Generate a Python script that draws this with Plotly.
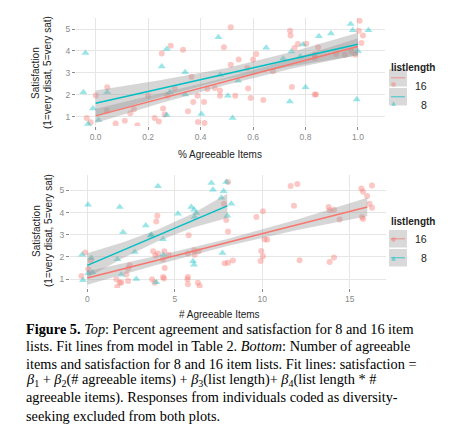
import plotly.graph_objects as go

RED = "#F8766D"
TEAL = "#00BFC4"
BAND = "rgba(153,153,153,0.4)"
W, H = 450, 434

# ---- top panel: % agreeable items vs satisfaction (jittered points) ----
top16_x = [0.0, -0.034, -0.019, 0.044, 0.042, 0.076, 0.111, 0.159, 0.132, 0.146,
           0.2, 0.225, 0.241, 0.252, 0.286, 0.333, 0.257, 0.263, 0.273, 0.301,
           0.365, 0.352, 0.372, 0.388, 0.39, 0.413, 0.415, 0.426, 0.454, 0.474,
           0.474, 0.489, 0.515, 0.515, 0.532, 0.545, 0.581, 0.591, 0.60, 0.578,
           0.612, 0.639, 0.676, 0.741, 0.743, 0.748, 0.758, 0.771, 0.803, 0.835,
           0.848, 0.835, 0.835, 0.84, 0.917, 0.95, 0.975, 1.006, 1.019, 1.013,
           1.003, 0.99]
top16_y = [1.98, 0.95, 0.76, 2.35, 1.29, 0.70, 0.83, 0.62, 1.17, 1.35,
           1.97, 0.95, 0.80, 3.89, 4.24, 4.06, 1.38, 1.11, 1.97, 2.29,
           2.83, 1.26, 1.68, 1.97, 0.77, 1.68, 0.73, 2.27, 2.32, 2.20,
           1.97, 4.17, 5.08, 3.38, 1.97, 3.61, 2.29, 1.86, 3.61, 3.23,
           3.86, 1.77, 3.08, 4.92, 4.71, 2.36, 4.14, 4.32, 4.33, 3.68,
           4.17, 3.83, 2.02, 2.02, 3.86, 3.83, 3.98, 5.38, 4.71, 4.36,
           4.92, 3.83]
top8_x = [-0.039, -0.047, -0.01, -0.029, 0.011, 0.044, 0.271, 0.252, 0.283, 0.271,
          0.341, 0.341, 0.403, 0.468, 0.475, 0.504, 0.522, 0.543, 0.65, 0.715,
          0.746, 0.74, 0.80, 0.79, 0.78, 0.851, 0.897, 0.972, 0.98, 1.04,
          1.0, 0.995]
top8_y = [3.91, 2.12, 1.38, 0.68, 0.86, 2.12, 4.09, 3.30, 2.14, 1.09,
          3.03, 2.02, 1.14, 4.62, 2.92, 1.97, 0.95, 2.65, 4.15, 3.65,
          3.98, 1.70, 2.35, 4.29, 3.75, 4.67, 4.80, 5.23, 4.94, 4.94,
          3.99, 1.79]

# fit lines and ribbon half-widths
top_fit_x = [0.0, 0.25, 0.5, 0.75, 1.0]
top16_fit = [1.05, 1.85, 2.63, 3.42, 4.20]
top16_hw = [0.32, 0.22, 0.16, 0.22, 0.38]
top8_fit = [1.62, 2.30, 2.97, 3.64, 4.31]
top8_hw = [0.58, 0.38, 0.26, 0.32, 0.52]

# ---- bottom panel: # agreeable items vs satisfaction ----
bot16_x = [-0.12, -0.34, 0.05, 0.2, 1.66, 1.85, 1.71, 2.33, 2.23, 2.33,
           2.42, 3.7, 3.85, 4.38, 3.76, 3.89, 4.04, 4.33, 4.42, 4.0,
           3.94, 4.66, 4.4, 5.79, 5.75, 5.72, 5.75, 6.32, 6.42, 6.13,
           6.1, 6.36, 7.94, 8.04, 7.85, 8.04, 8.32, 7.81, 8.04, 9.66,
           10.04, 10.13, 10.28, 9.94, 10.04, 9.9, 12.13, 11.62, 12.0, 11.81,
           13.79, 13.85, 14.1, 14.42, 13.85, 14.1, 15.66, 15.76, 15.99, 16.27,
           15.7, 15.76, 16.13, 16.27, 5.75, 4.33, 1.94]
bot16_y = [2.2, 1.14, 1.44, 1.84, 0.99, 0.84, 0.64, 0.91, 1.21, 1.47,
           1.62, 0.99, 0.84, 1.03, 2.26, 2.06, 2.15, 1.88, 1.5, 3.86,
           3.6, 2.1, 2.25, 2.98, 2.15, 0.99, 0.77, 0.84, 0.69, 2.1,
           2.3, 2.25, 3.66, 3.14, 1.71, 1.74, 1.84, 4.4, 5.37, 3.8,
           4.06, 2.8, 2.77, 2.27, 2.03, 1.82, 1.85, 5.19, 5.28, 4.31,
           4.25, 4.1, 4.13, 3.69, 1.77, 1.97, 5.08, 4.93, 4.74, 5.22,
           3.8, 3.71, 4.4, 4.21, 1.09, 1.09, 0.85]
bot8_x = [0.04, -0.3, 0.05, 0.3, -0.25, 0.23, 1.85, 2.04, 1.72, 1.94,
          2.8, 2.71, 3.34, 4.04, 3.62, 4.33, 4.33, 3.94, 5.18, 5.94,
          6.1, 6.23, 6.13, 6.04, 6.1, 7.09, 7.18, 7.66, 7.79, 7.94,
          8.23, 8.0, 7.72, 3.66]
bot8_y = [4.35, 2.1, 1.27, 1.3, 0.95, 1.95, 4.25, 3.11, 1.89, 1.2,
          1.01, 2.22, 3.41, 5.18, 2.95, 2.8, 2.1, 0.86, 3.95, 4.25,
          4.13, 3.98, 3.8, 1.8, 1.65, 5.33, 5.03, 4.66, 4.96, 5.37,
          4.4, 3.85, 2.18, 3.0]

bot16_fit_x = [0, 4, 8, 12, 16]
bot16_fit = [1.05, 1.85, 2.65, 3.45, 4.25]
bot16_hw = [0.30, 0.20, 0.16, 0.24, 0.42]
bot8_fit_x = [0, 2, 4, 6, 8]
bot8_fit = [1.62, 2.29, 2.96, 3.63, 4.30]
bot8_hw = [0.55, 0.36, 0.26, 0.32, 0.55]

caption = [
    "<b>Figure 5.</b> <i>Top</i>: Percent agreement and satisfaction for 8 and 16 item",
    "lists. Fit lines from model in Table 2. <i>Bottom</i>: Number of agreeable",
    "items and satisfaction for 8 and 16 item lists. Fit lines: satisfaction =",
    "<i>β</i><sub>1</sub> + <i>β</i><sub>2</sub>(# agreeable items) + <i>β</i><sub>3</sub>(list length)+ <i>β</i><sub>4</sub>(list length * #",
    "agreeable items). Responses from individuals coded as diversity-",
    "seeking excluded from both plots.",
]


def px(x):
    return x / W


def py(y):
    return 1 - y / H


fig = go.Figure()


def add_panel(xa, ya, xs16, ys16, xs8, ys8, fx16, f16, hw16, fx8, f8, hw8):
    fig.add_trace(go.Scatter(x=xs16, y=ys16, mode="markers", xaxis=xa, yaxis=ya,
                             marker=dict(color=RED, size=6, opacity=0.4), showlegend=False))
    fig.add_trace(go.Scatter(x=xs8, y=ys8, mode="markers", xaxis=xa, yaxis=ya,
                             marker=dict(color=TEAL, size=7, symbol="triangle-up", opacity=0.4),
                             showlegend=False))
    for fx, f, hw in [(fx16, f16, hw16), (fx8, f8, hw8)]:
        up = [a + b for a, b in zip(f, hw)]
        lo = [a - b for a, b in zip(f, hw)]
        fig.add_trace(go.Scatter(x=fx + fx[::-1], y=up + lo[::-1], fill="toself",
                                 fillcolor=BAND, line=dict(width=0), mode="lines",
                                 xaxis=xa, yaxis=ya, showlegend=False, hoverinfo="skip"))
    fig.add_trace(go.Scatter(x=fx16, y=f16, mode="lines", line=dict(color=RED, width=1.5),
                             xaxis=xa, yaxis=ya, showlegend=False))
    fig.add_trace(go.Scatter(x=fx8, y=f8, mode="lines", line=dict(color=TEAL, width=1.5),
                             xaxis=xa, yaxis=ya, showlegend=False))


add_panel("x", "y", top16_x, top16_y, top8_x, top8_y,
          top_fit_x, top16_fit, top16_hw, top_fit_x, top8_fit, top8_hw)
add_panel("x2", "y2", bot16_x, bot16_y, bot8_x, bot8_y,
          bot16_fit_x, bot16_fit, bot16_hw, bot8_fit_x, bot8_fit, bot8_hw)

axis_style = dict(showgrid=True, gridcolor="#e6e6e6", gridwidth=1, zeroline=False,
                  ticks="outside", ticklen=3, tickcolor="#8a8a8a", showline=False,
                  tickfont=dict(family="Liberation Sans", size=8.5, color="#8a8a8a"))

fig.update_layout(
    width=W, height=H, margin=dict(l=0, r=0, t=0, b=0),
    paper_bgcolor="white", plot_bgcolor="white", showlegend=False,
    xaxis=dict(domain=[px(68), px(377)], range=[-0.075, 1.103], anchor="y",
               tickvals=[0, 0.2, 0.4, 0.6, 0.8, 1.0],
               ticktext=["0.0", "0.2", "0.4", "0.6", "0.8", "1.0"], **axis_style),
    yaxis=dict(domain=[py(118), py(10)], range=[0.59, 5.5], anchor="x",
               tickvals=[1, 2, 3, 4, 5], **axis_style),
    xaxis2=dict(domain=[px(62), px(378)], range=[-0.99, 17.07], anchor="y2",
                tickvals=[0, 5, 10, 15], **axis_style),
    yaxis2=dict(domain=[py(280), py(167)], range=[0.6, 5.69], anchor="x2",
                tickvals=[1, 2, 3, 4, 5], **axis_style),
)

sans = "Liberation Sans"
ann = []
# axis titles
ann.append(dict(x=px(212), y=py(146), text="% Agreeable Items"))
ann.append(dict(x=px(211), y=py(306), text="# Agreeable Items"))
for yc in (65, 223):
    ann.append(dict(x=px(28), y=py(yc), text="Satisfaction", textangle=-90))
    ann.append(dict(x=px(40), y=py(yc), text="(1=very disat, 5=very sat)", textangle=-90))
for a in ann:
    a.update(xref="paper", yref="paper", showarrow=False, xanchor="center",
             yanchor="middle", font=dict(family=sans, size=10, color="#222"))

# legends (one per panel)
shapes = []
for top in (52, 213):
    ann.append(dict(x=px(381), y=py(top), text="<b>listlength</b>", xanchor="left",
                    xref="paper", yref="paper", showarrow=False,
                    font=dict(family=sans, size=10, color="#222")))
    for i, (lab, col, sym) in enumerate([("16", RED, "●"), ("8", TEAL, "▲")]):
        y0 = top + 9 + i * 19
        shapes.append(dict(type="rect", xref="paper", yref="paper",
                           x0=px(381), x1=px(399), y0=py(y0), y1=py(y0 + 17.5),
                           fillcolor="#d9d9d9", line=dict(width=0), layer="above"))
        shapes.append(dict(type="line", xref="paper", yref="paper",
                           x0=px(383), x1=px(397), y0=py(y0 + 8.75), y1=py(y0 + 8.75),
                           line=dict(color=col, width=1.2), opacity=0.6))
        ann.append(dict(x=px(390), y=py(y0 + 8.75), text=sym, xref="paper", yref="paper",
                        showarrow=False, opacity=0.45,
                        font=dict(family="DejaVu Sans", size=6, color=col)))
        ann.append(dict(x=px(421), y=py(y0 + 8.75), text=lab, xanchor="right",
                        xref="paper", yref="paper", showarrow=False,
                        font=dict(family=sans, size=10.5, color="#222")))

# caption
for i, line in enumerate(caption):
    ann.append(dict(x=px(16), y=py(331 + i * 17.3), text=line, xanchor="left",
                    xref="paper", yref="paper", showarrow=False,
                    font=dict(family="Liberation Serif", size=14.3, color="black")))

fig.update_layout(annotations=ann, shapes=shapes)
fig.write_html("out.html")
